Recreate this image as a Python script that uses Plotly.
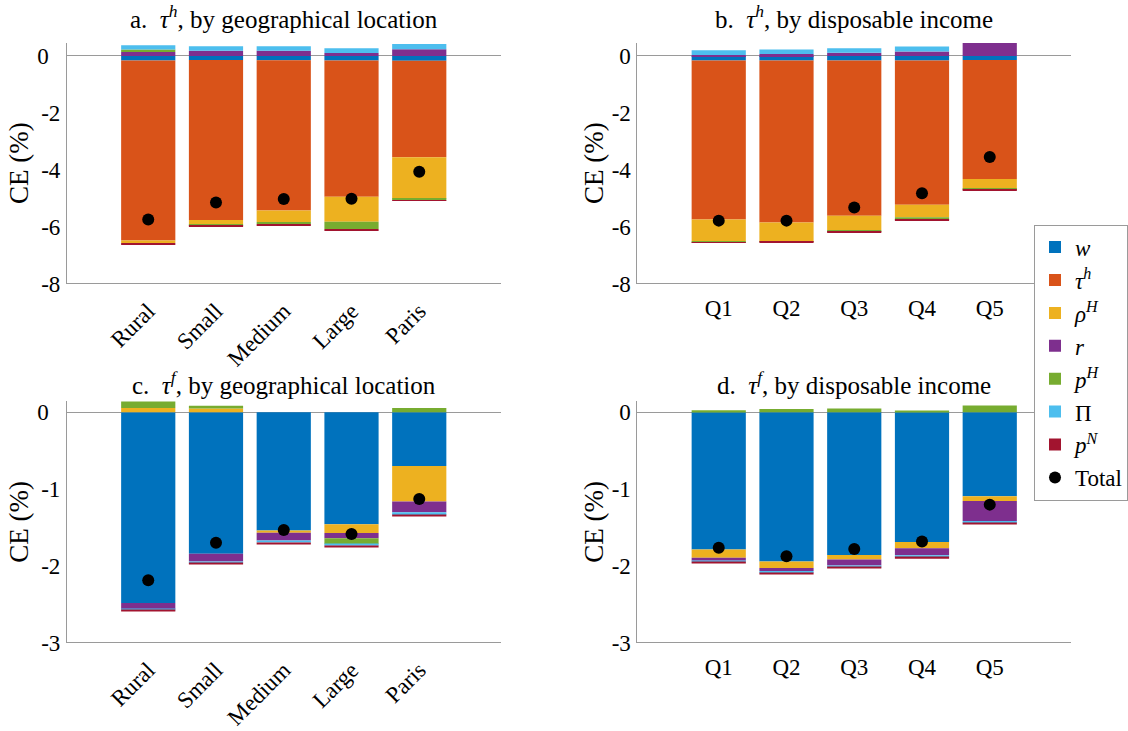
import plotly.graph_objects as go

# ---- categories ----
geo_cats = ["Rural", "Small", "Medium", "Large", "Paris"]
inc_cats = ["Q1", "Q2", "Q3", "Q4", "Q5"]
cat_pos = [1, 2, 3, 4, 5]

# ---- panel a: tau^h, by geographical location ----
a_w = [-0.16, -0.14, -0.15, -0.16, -0.17]
a_tau_h = [-6.33, -5.63, -5.28, -4.79, -3.39]
a_rho_H = [-0.09, -0.16, -0.41, -0.88, -1.45]
a_r = [0.14, 0.18, 0.18, 0.10, 0.24]
a_p_H = [0.09, -0.04, -0.07, -0.25, -0.06]
a_Pi = [0.15, 0.16, 0.16, 0.17, 0.18]
a_p_N = [-0.05, -0.02, -0.04, -0.04, -0.02]
a_total = [-5.75, -5.15, -5.03, -5.02, -4.07]

# ---- panel b: tau^h, by disposable income ----
b_w = [-0.16, -0.16, -0.16, -0.16, -0.14]
b_tau_h = [-5.59, -5.70, -5.46, -5.07, -4.19]
b_rho_H = [-0.77, -0.66, -0.51, -0.44, -0.34]
b_r = [0.03, 0.07, 0.11, 0.16, 0.60]
b_p_H = [-0.02, -0.01, -0.03, -0.09, -0.01]
b_Pi = [0.17, 0.16, 0.16, 0.17, 0.17]
b_p_N = [-0.03, -0.04, -0.03, -0.02, -0.03]
b_total = [-5.79, -5.79, -5.33, -4.83, -3.55]

# ---- panel c: tau^f, by geographical location ----
c_w = [-2.485, -1.843, -1.54, -1.46, -0.70]
c_tau_h = [0.0, 0.0, 0.0, 0.0, 0.0]
c_rho_H = [0.055, 0.047, -0.03, -0.115, -0.464]
c_r = [-0.081, -0.102, -0.102, -0.068, -0.14]
c_p_H = [0.094, 0.038, 0.0, -0.077, 0.055]
c_Pi = [-0.017, -0.021, -0.026, -0.021, -0.034]
c_p_N = [-0.013, -0.017, -0.017, -0.017, -0.017]
c_total = [-2.19, -1.70, -1.536, -1.587, -1.13]

# ---- panel d: tau^f, by disposable income ----
d_w = [-1.79, -1.945, -1.86, -1.69, -1.094]
d_tau_h = [0.0, 0.0, 0.0, 0.0, 0.0]
d_rho_H = [-0.106, -0.085, -0.06, -0.081, -0.064]
d_r = [-0.038, -0.038, -0.077, -0.094, -0.26]
d_p_H = [0.026, 0.043, 0.047, 0.017, 0.089]
d_Pi = [-0.013, -0.026, -0.017, -0.026, -0.03]
d_p_N = [-0.017, -0.013, -0.013, -0.017, -0.013]
d_total = [-1.766, -1.877, -1.783, -1.685, -1.204]

# ---- y tick labels ----
top_tickvals = [-8, -6, -4, -2, 0]
top_ticktext = ["-8", "-6", "-4", "-2", "0"]
bot_tickvals = [-3, -2, -1, 0]
bot_ticktext = ["-3", "-2", "-1", "0"]

titles = [
    "a.  <i>τ</i><sup><i>h</i></sup>, by geographical location",
    "b.  <i>τ</i><sup><i>h</i></sup>, by disposable income",
    "c.  <i>τ</i><sup><i>f</i></sup>, by geographical location",
    "d.  <i>τ</i><sup><i>f</i></sup>, by disposable income",
]

series_names = ["<i>w</i>", "<i>τ</i><sup><i>h</i></sup>", "<i>ρ</i><sup><i>H</i></sup>",
                "<i>r</i>", "<i>p</i><sup><i>H</i></sup>", "Π", "<i>p</i><sup><i>N</i></sup>"]
series_colors = ["#0072BD", "#D95319", "#EDB120", "#7E2F8E", "#77AC30", "#4DBEEE", "#A2142F"]

panels = [
    dict(cats=geo_cats, series=[a_w, a_tau_h, a_rho_H, a_r, a_p_H, a_Pi, a_p_N], total=a_total,
         xa="x", ya="y"),
    dict(cats=inc_cats, series=[b_w, b_tau_h, b_rho_H, b_r, b_p_H, b_Pi, b_p_N], total=b_total,
         xa="x2", ya="y2"),
    dict(cats=geo_cats, series=[c_w, c_tau_h, c_rho_H, c_r, c_p_H, c_Pi, c_p_N], total=c_total,
         xa="x3", ya="y3"),
    dict(cats=inc_cats, series=[d_w, d_tau_h, d_rho_H, d_r, d_p_H, d_Pi, d_p_N], total=d_total,
         xa="x4", ya="y4"),
]

W, H = 1128, 731
FONT = "Liberation Serif"
AXIS_GRAY = "#9a9a9a"

fig = go.Figure()
for k, p in enumerate(panels):
    for i, (vals, name, col) in enumerate(zip(p["series"], series_names, series_colors)):
        fig.add_trace(go.Bar(
            x=cat_pos, y=vals, name=name, marker=dict(color=col, line=dict(width=0)),
            xaxis=p["xa"], yaxis=p["ya"], showlegend=(k == 0),
            legendgroup=f"g{i}", hoverinfo="skip",
        ))
    fig.add_trace(go.Scatter(
        x=cat_pos, y=p["total"], mode="markers", name="Total",
        marker=dict(color="black", size=12),
        xaxis=p["xa"], yaxis=p["ya"], showlegend=(k == 0), legendgroup="g7",
    ))

left_x = [67 / W, 501 / W]
right_x = [638 / W, 1072 / W]
top_y = [1 - 288 / H, 1 - 42.7 / H]
bot_y = [1 - 654 / H, 1 - 408.3 / H]

def xaxis(domain, cats, angle, anchor):
    return dict(domain=domain, range=[-0.2, 6.2], tickvals=cat_pos, ticktext=cats,
                tickangle=angle, showline=True, linecolor=AXIS_GRAY, linewidth=1,
                showgrid=False, zeroline=False, ticks="outside", ticklen=4,
                tickcolor="rgba(0,0,0,0)", tickfont=dict(family=FONT, size=23, color="black"),
                anchor=anchor, fixedrange=True)

def yaxis(domain, rng, tv, tt, anchor, left):
    ttext = [("0\u00a0\u00a0" if (left and t == "0") else t) for t in tt]
    return dict(domain=domain, range=rng, tickvals=tv, ticktext=ttext,
                showline=True, linecolor=AXIS_GRAY, linewidth=1, showgrid=False,
                zeroline=True, zerolinecolor=AXIS_GRAY, zerolinewidth=1,
                ticks="outside", ticklen=1, tickcolor="rgba(0,0,0,0)",
                tickfont=dict(family=FONT, size=23, color="black"),
                title=dict(text="CE (%)", font=dict(family=FONT, size=27, color="black"), standoff=0),
                anchor=anchor, fixedrange=True)

fig.update_layout(
    width=W, height=H,
    margin=dict(l=0, r=0, t=0, b=0),
    paper_bgcolor="white", plot_bgcolor="white",
    barmode="relative", bargap=0.2,
    font=dict(family=FONT, size=22, color="black"),
    xaxis=xaxis(left_x, geo_cats, -45, "y"),
    xaxis2=xaxis(right_x, inc_cats, 0, "y2"),
    xaxis3=xaxis(left_x, geo_cats, -45, "y3"),
    xaxis4=xaxis(right_x, inc_cats, 0, "y4"),
    yaxis=yaxis(top_y, [-8, 0.46], top_tickvals, top_ticktext, "x", True),
    yaxis2=yaxis(top_y, [-8, 0.46], top_tickvals, top_ticktext, "x2", False),
    yaxis3=yaxis(bot_y, [-3, 0.14], bot_tickvals, bot_ticktext, "x3", True),
    yaxis4=yaxis(bot_y, [-3, 0.14], bot_tickvals, bot_ticktext, "x4", False),
    legend=dict(x=1035 / W, y=1 - 228 / H, xanchor="left", yanchor="top",
                bgcolor="white", bordercolor=AXIS_GRAY, borderwidth=1,
                font=dict(family=FONT, size=23, color="black"),
                traceorder="grouped", tracegroupgap=0, itemwidth=30),
    showlegend=True,
)

title_pos = [((67 + 501) / 2, 16), ((638 + 1072) / 2, 16),
             ((67 + 501) / 2, 389), ((638 + 1072) / 2, 389)]
for t, (cx, cy) in zip(titles, title_pos):
    fig.add_annotation(text=t, x=cx / W, y=1 - cy / H, xref="paper", yref="paper",
                       xanchor="center", yanchor="middle", showarrow=False,
                       font=dict(family=FONT, size=25, color="black"))

fig.write_html("out.html")
